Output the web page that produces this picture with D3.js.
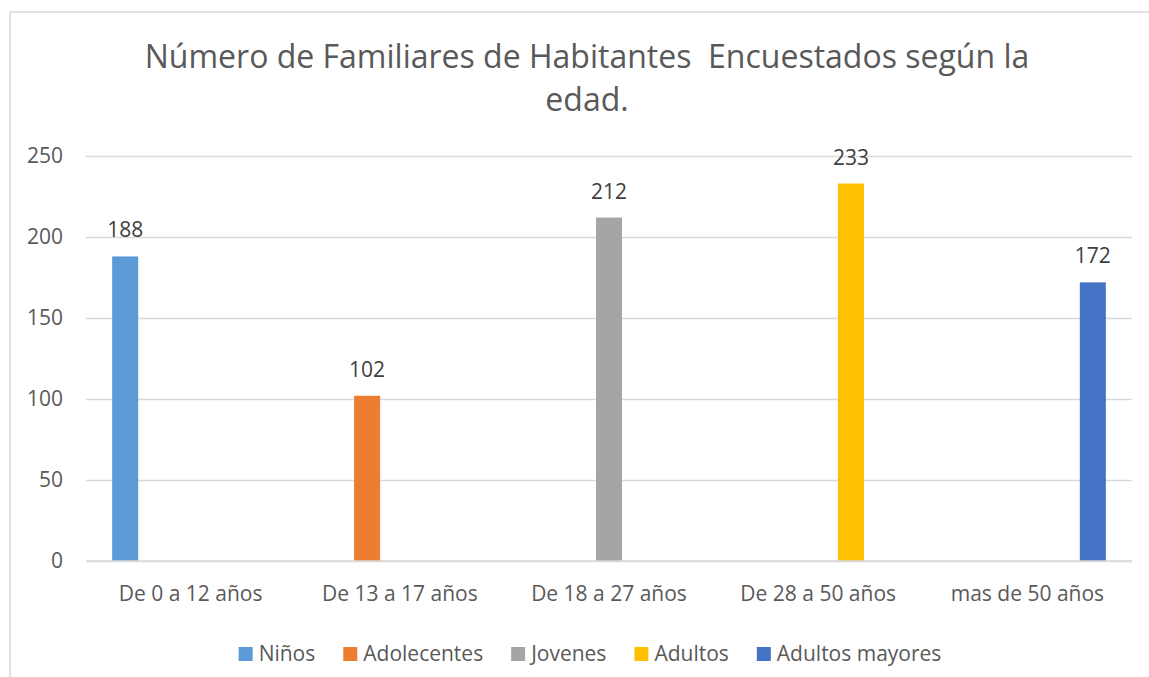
<!DOCTYPE html>
<html>
<head>
<meta charset="utf-8">
<script src="https://cdn.jsdelivr.net/npm/d3@7"></script>
<style>
  html, body { margin: 0; padding: 0; background: #fff; }
  svg { display: block; font-family: "Open Sans", sans-serif; }
</style>
</head>
<body>
<svg id="chart" width="1149" height="677"></svg>
<script>
// ---- data ----
const titleLines = ["Número de Familiares de Habitantes  Encuestados según la", "edad."];
const categories = ["De 0 a 12 años", "De 13 a 17 años", "De 18 a 27 años", "De 28 a 50 años", "mas de 50 años"];
const seriesNames = ["Niños", "Adolecentes", "Jovenes", "Adultos", "Adultos mayores"];
const ninos          = [188, null, null, null, null];
const adolecentes    = [null, 102, null, null, null];
const jovenes        = [null, null, 212, null, null];
const adultos        = [null, null, null, 233, null];
const adultosMayores = [null, null, null, null, 172];
const yTicks = [0, 50, 100, 150, 200, 250];
const colors = ["#5B9BD5", "#ED7D31", "#A5A5A5", "#FFC000", "#4472C4"];

const seriesValues = [ninos, adolecentes, jovenes, adultos, adultosMayores];

// ---- layout ----
const svg = d3.select("#chart");
const W = 1149, H = 677;
const plot = { left: 86, right: 1132, top: 156, bottom: 561 };
const smallFont = "21px";

// chart border
svg.append("rect")
  .attr("x", 10).attr("y", 12)
  .attr("width", W + 20).attr("height", H + 20)
  .attr("fill", "#fff")
  .attr("stroke", "#d9d9d9").attr("stroke-width", 1.5);

// title
const title = svg.append("text")
  .attr("text-anchor", "middle")
  .attr("fill", "#595959")
  .style("font-size", "32px")
  .style("white-space", "pre");
titleLines.forEach((t, i) => {
  title.append("tspan")
    .attr("x", 587)
    .attr("y", 68 + i * 43)
    .text(t);
});

// scales
const x0 = d3.scaleBand()
  .domain(categories)
  .range([plot.left, plot.right])
  .paddingInner(0.218)
  .paddingOuter(0.109);
const x1 = d3.scaleBand()
  .domain(seriesNames)
  .range([0, x0.bandwidth()])
  .paddingInner(0.205)
  .paddingOuter(0.1025);
const y = d3.scaleLinear().domain([0, 250]).range([plot.bottom, plot.top]);

// gridlines
const yAxis = d3.axisLeft(y)
  .tickValues(yTicks)
  .tickSize(-(plot.right - plot.left))
  .tickPadding(23)
  .tickFormat(d3.format("d"));
const gy = svg.append("g")
  .attr("transform", `translate(${plot.left},0)`)
  .call(yAxis);
gy.select(".domain").remove();
gy.selectAll(".tick line").attr("stroke", "#d9d9d9").attr("stroke-width", 1.5);
gy.selectAll(".tick text")
  .attr("fill", "#595959")
  .style("font-size", smallFont)
  .style("font-family", "'Open Sans', sans-serif");

// bars
const flat = [];
seriesNames.forEach((s, si) => {
  seriesValues[si].forEach((v, ci) => {
    if (v !== null) flat.push({ series: s, si, cat: categories[ci], value: v });
  });
});

svg.append("g").selectAll("rect")
  .data(flat)
  .join("rect")
  .attr("x", d => x0(d.cat) + x1(d.series))
  .attr("y", d => y(d.value))
  .attr("width", x1.bandwidth())
  .attr("height", d => y(0) - y(d.value))
  .attr("fill", d => colors[d.si]);

// x axis line (drawn over bars)
const xAxis = d3.axisBottom(x0).tickSize(0).tickPadding(25);
const gx = svg.append("g")
  .attr("transform", `translate(0,${plot.bottom})`)
  .call(xAxis);
gx.select(".domain").attr("stroke", "#d9d9d9").attr("stroke-width", 1.5)
  .attr("d", `M${plot.left},0H${plot.right}`);
gx.selectAll(".tick text")
  .attr("fill", "#595959")
  .style("font-size", smallFont)
  .style("font-family", "'Open Sans', sans-serif");

// data labels
svg.append("g").selectAll("text")
  .data(flat)
  .join("text")
  .attr("x", d => x0(d.cat) + x1(d.series) + x1.bandwidth() / 2)
  .attr("y", d => y(d.value) - 19)
  .attr("text-anchor", "middle")
  .attr("fill", "#404040")
  .style("font-size", smallFont)
  .text(d => d.value);

// legend
const legend = svg.append("g");
const legendY = 661;
const items = legend.selectAll("g.item")
  .data(seriesNames)
  .join("g").attr("class", "item");
items.append("rect")
  .attr("width", 14).attr("height", 14)
  .attr("y", legendY - 14)
  .attr("fill", (d, i) => colors[i]);
items.append("text")
  .attr("x", 20)
  .attr("y", legendY)
  .attr("fill", "#595959")
  .style("font-size", smallFont)
  .text(d => d);
let cursor = 0;
const offsets = [];
items.each(function() {
  offsets.push(cursor);
  const w = d3.select(this).select("text").node().getComputedTextLength();
  cursor += 20 + w + 28;
});
const total = cursor - 28;
const startX = 590 - total / 2;
items.attr("transform", (d, i) => `translate(${startX + offsets[i]},0)`);
</script>
</body>
</html>
